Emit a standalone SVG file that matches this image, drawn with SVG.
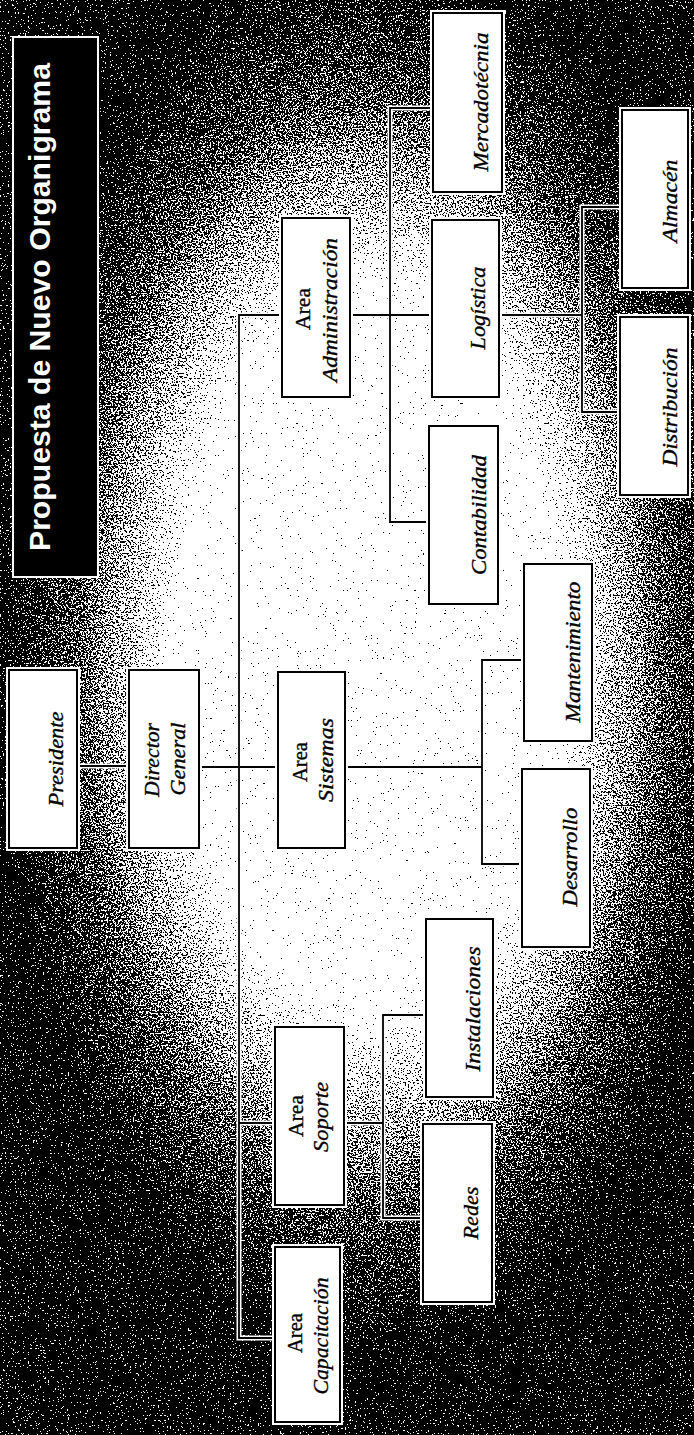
<svg xmlns="http://www.w3.org/2000/svg" width="694" height="1435" viewBox="0 0 694 1435">
  <defs>
    <!-- dark vignette around a bright centre -->
    <radialGradient id="bg" gradientUnits="userSpaceOnUse" cx="0" cy="0" r="1.6" gradientTransform="translate(370 650) scale(235 440)">
      <stop offset="0" stop-color="#ffffff"/>
      <stop offset="0.5" stop-color="#ffffff"/>
      <stop offset="0.64" stop-color="#a8a8a8"/>
      <stop offset="0.8" stop-color="#5e5e5e"/>
      <stop offset="1" stop-color="#262626"/>
    </radialGradient>
    <!-- speckled photocopy texture: gradient plus noise, thresholded to black/white -->
    <filter id="grain" x="0" y="0" width="100%" height="100%" color-interpolation-filters="sRGB">
      <feTurbulence type="fractalNoise" baseFrequency="0.6" numOctaves="2" seed="7" result="noise"/>
      <feColorMatrix in="noise" type="matrix" values="1 0 0 0 0  1 0 0 0 0  1 0 0 0 0  0 0 0 0 1" result="mono"/>
      <feComposite in="SourceGraphic" in2="mono" operator="arithmetic" k1="0" k2="1.3" k3="2.5" k4="-1.4" result="sum"/>
      <feComponentTransfer in="sum">
        <feFuncR type="discrete" tableValues="0 1"/>
        <feFuncG type="discrete" tableValues="0 1"/>
        <feFuncB type="discrete" tableValues="0 1"/>
        <feFuncA type="linear" slope="0" intercept="1"/>
      </feComponentTransfer>
    </filter>
    <style>
      .box { fill: #ffffff; stroke: #000000; stroke-width: 2; }
      .halo { fill: none; stroke: #ffffff; stroke-width: 6; }
      .wire-halo { fill: none; stroke: #ffffff; stroke-width: 5; stroke-linecap: square; }
      .wire { fill: none; stroke: #000000; stroke-width: 1.8; stroke-linecap: square; }
      .lbl { font-family: "Liberation Serif", "Times New Roman", serif; font-style: italic; font-size: 21px; fill: #000000; stroke: #000000; stroke-width: 0.35; text-anchor: middle; }
      .up { font-style: normal; }
      .title { font-family: "Liberation Sans", Arial, sans-serif; font-weight: bold; font-size: 30px; fill: #ffffff; text-anchor: middle; }
    </style>
  </defs>

  <rect x="0" y="0" width="694" height="1435" fill="url(#bg)" filter="url(#grain)"/>

  <!-- title panel -->
  <g id="title">
    <rect x="13" y="37" width="85" height="540" fill="#000000" stroke="#ffffff" stroke-width="2"/>
    <text class="title" transform="translate(50 307) rotate(-90)" textLength="488" lengthAdjust="spacingAndGlyphs">Propuesta de Nuevo Organigrama</text>
  </g>

  <!-- connectors -->
  <g id="connectors">
    <path class="wire-halo" d="M77 766 H129 M199 767 H278 M239 315 V1338 M239 315 H282 M239 1123 H275 M239 1338 H275 M350 315 H432 M390 108 V522 M390 108 H433 M390 522 H429 M499 315 H582 M582 207 V412 M582 207 H622 M582 412 H620 M345 767 H482 M482 660 V864 M482 660 H524 M482 864 H522 M344 1123 H383 M383 1015 V1218 M383 1015 H426 M383 1218 H423"/>
    <path class="wire" d="M77 766 H129 M199 767 H278 M239 315 V1338 M239 315 H282 M239 1123 H275 M239 1338 H275 M350 315 H432 M390 108 V522 M390 108 H433 M390 522 H429 M499 315 H582 M582 207 V412 M582 207 H622 M582 412 H620 M345 767 H482 M482 660 V864 M482 660 H524 M482 864 H522 M344 1123 H383 M383 1015 V1218 M383 1015 H426 M383 1218 H423"/>
  </g>

  <g id="presidente">
    <rect class="halo" x="9" y="670" width="68" height="178"/>
    <rect class="box" x="9" y="670" width="68" height="178"/>
    <text class="lbl" transform="translate(63 759) rotate(-90)" textLength="95" lengthAdjust="spacingAndGlyphs">Presidente</text>
  </g>

  <g id="director-general">
    <rect class="halo" x="129" y="670" width="70" height="178"/>
    <rect class="box" x="129" y="670" width="70" height="178"/>
    <text class="lbl" transform="translate(159 760) rotate(-90)" textLength="74" lengthAdjust="spacingAndGlyphs">Director</text>
    <text class="lbl" transform="translate(185 759) rotate(-90)" textLength="73" lengthAdjust="spacingAndGlyphs">General</text>
  </g>

  <g id="area-sistemas">
    <rect class="halo" x="278" y="672" width="67" height="176"/>
    <rect class="box" x="278" y="672" width="67" height="176"/>
    <text class="lbl up" transform="translate(307 762) rotate(-90)" textLength="40" lengthAdjust="spacingAndGlyphs">Area</text>
    <text class="lbl" transform="translate(333 760) rotate(-90)" textLength="84" lengthAdjust="spacingAndGlyphs">Sistemas</text>
  </g>

  <g id="area-administracion">
    <rect class="halo" x="282" y="218" width="68" height="179"/>
    <rect class="box" x="282" y="218" width="68" height="179"/>
    <text class="lbl up" transform="translate(310 309) rotate(-90)" textLength="42" lengthAdjust="spacingAndGlyphs">Area</text>
    <text class="lbl" transform="translate(337 310) rotate(-90)" textLength="144" lengthAdjust="spacingAndGlyphs">Administración</text>
  </g>

  <g id="mercadotecnia">
    <rect class="halo" x="433" y="13" width="69" height="179"/>
    <rect class="box" x="433" y="13" width="69" height="179"/>
    <text class="lbl" transform="translate(488 102) rotate(-90)" textLength="139" lengthAdjust="spacingAndGlyphs">Mercadotécnia</text>
  </g>

  <g id="logistica">
    <rect class="halo" x="432" y="220" width="67" height="177"/>
    <rect class="box" x="432" y="220" width="67" height="177"/>
    <text class="lbl" transform="translate(485 308) rotate(-90)" textLength="83" lengthAdjust="spacingAndGlyphs">Logística</text>
  </g>

  <g id="contabilidad">
    <rect class="halo" x="429" y="426" width="69" height="178"/>
    <rect class="box" x="429" y="426" width="69" height="178"/>
    <text class="lbl" transform="translate(486 515) rotate(-90)" textLength="120" lengthAdjust="spacingAndGlyphs">Contabilidad</text>
  </g>

  <g id="almacen">
    <rect class="halo" x="622" y="110" width="66" height="178"/>
    <rect class="box" x="622" y="110" width="66" height="178"/>
    <text class="lbl" transform="translate(677 201) rotate(-90)" textLength="83" lengthAdjust="spacingAndGlyphs">Almacén</text>
  </g>

  <g id="distribucion">
    <rect class="halo" x="620" y="317" width="68" height="178"/>
    <rect class="box" x="620" y="317" width="68" height="178"/>
    <text class="lbl" transform="translate(677 407) rotate(-90)" textLength="119" lengthAdjust="spacingAndGlyphs">Distribución</text>
  </g>

  <g id="mantenimiento">
    <rect class="halo" x="524" y="564" width="68" height="177"/>
    <rect class="box" x="524" y="564" width="68" height="177"/>
    <text class="lbl" transform="translate(580 652) rotate(-90)" textLength="141" lengthAdjust="spacingAndGlyphs">Mantenimiento</text>
  </g>

  <g id="desarrollo">
    <rect class="halo" x="522" y="769" width="68" height="178"/>
    <rect class="box" x="522" y="769" width="68" height="178"/>
    <text class="lbl" transform="translate(577 857) rotate(-90)" textLength="99" lengthAdjust="spacingAndGlyphs">Desarrollo</text>
  </g>

  <g id="instalaciones">
    <rect class="halo" x="426" y="919" width="67" height="178"/>
    <rect class="box" x="426" y="919" width="67" height="178"/>
    <text class="lbl" transform="translate(480 1009) rotate(-90)" textLength="125" lengthAdjust="spacingAndGlyphs">Instalaciones</text>
  </g>

  <g id="area-soporte">
    <rect class="halo" x="275" y="1027" width="69" height="178"/>
    <rect class="box" x="275" y="1027" width="69" height="178"/>
    <text class="lbl up" transform="translate(303 1116) rotate(-90)" textLength="42" lengthAdjust="spacingAndGlyphs">Area</text>
    <text class="lbl" transform="translate(328 1117) rotate(-90)" textLength="70" lengthAdjust="spacingAndGlyphs">Soporte</text>
  </g>

  <g id="redes">
    <rect class="halo" x="423" y="1124" width="69" height="178"/>
    <rect class="box" x="423" y="1124" width="69" height="178"/>
    <text class="lbl" transform="translate(478 1213) rotate(-90)" textLength="53" lengthAdjust="spacingAndGlyphs">Redes</text>
  </g>

  <g id="area-capacitacion">
    <rect class="halo" x="275" y="1247" width="65" height="175"/>
    <rect class="box" x="275" y="1247" width="65" height="175"/>
    <text class="lbl up" transform="translate(302 1333) rotate(-90)" textLength="40" lengthAdjust="spacingAndGlyphs">Area</text>
    <text class="lbl" transform="translate(328 1336) rotate(-90)" textLength="117" lengthAdjust="spacingAndGlyphs">Capacitación</text>
  </g>
</svg>
